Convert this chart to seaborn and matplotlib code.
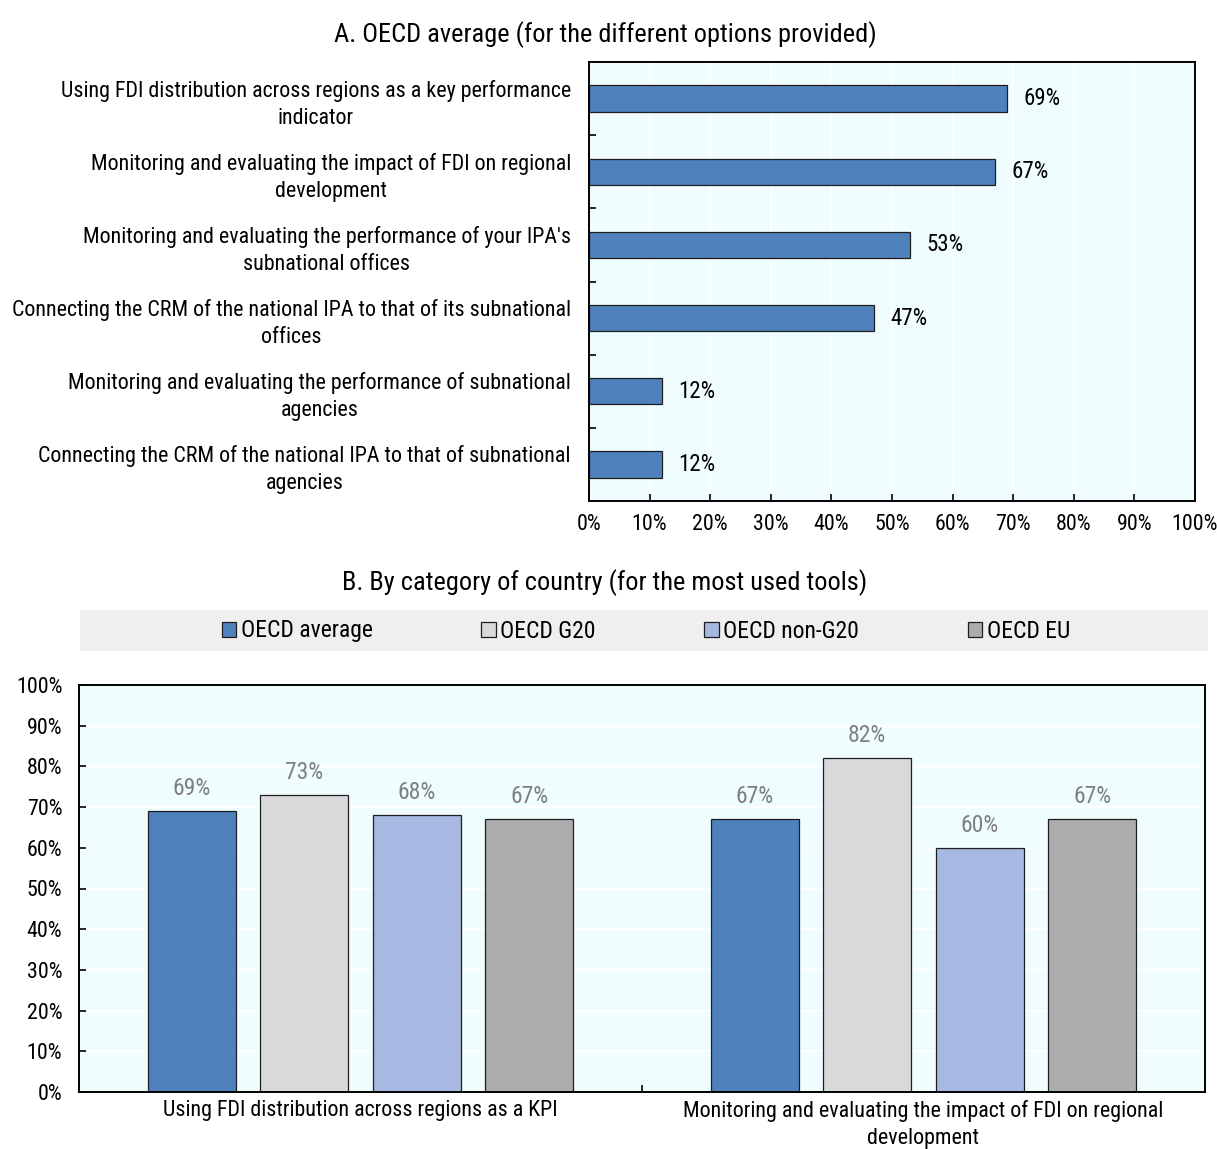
import matplotlib
matplotlib.use("Agg")
import matplotlib.pyplot as plt
from matplotlib.patches import Rectangle
from matplotlib.ticker import FixedLocator, PercentFormatter
import seaborn as sns
import pandas as pd

# Panel A: OECD average per option
options = [
    "Using FDI distribution across regions as a key performance\nindicator",
    "Monitoring and evaluating the impact of FDI on regional\ndevelopment",
    "Monitoring and evaluating the performance of your IPA's\nsubnational offices",
    "Connecting the CRM of the national IPA to that of its subnational\noffices",
    "Monitoring and evaluating the performance of subnational\nagencies",
    "Connecting the CRM of the national IPA to that of subnational\nagencies",
]
option_share = [69, 67, 53, 47, 12, 12]

# Panel B: most used tools by category of country
tools = [
    "Using FDI distribution across regions as a KPI",
    "Monitoring and evaluating the impact of FDI on regional\ndevelopment",
]
groups = ["OECD average", "OECD G20", "OECD non-G20", "OECD EU"]
oecd_average = [69, 67]
oecd_g20 = [73, 82]
oecd_non_g20 = [68, 60]
oecd_eu = [67, 67]

group_colors = ["#4f81bd", "#d9d9d9", "#a7b9e3", "#acacac"]
bg = "#f0fdff"
edge = "#1e1e1e"

sns.set_theme(style="white")
plt.rcParams["font.family"] = ["Roboto Condensed", "Liberation Sans", "DejaVu Sans"]
plt.rcParams["axes.linewidth"] = 1.4
plt.rcParams["text.color"] = "black"
plt.rcParams["xtick.color"] = "black"
plt.rcParams["ytick.color"] = "black"
plt.rcParams["axes.labelcolor"] = "black"

FS = 15.8
W, H = 1217, 1149
fig = plt.figure(figsize=(W / 100, H / 100), dpi=100)


def px_axes(left, top, right, bottom):
    return fig.add_axes([left / W, 1 - bottom / H, (right - left) / W, (bottom - top) / H])


# ---------------- Panel A ----------------
axA = px_axes(589, 62, 1195, 501)
axA.set_facecolor(bg)
dfA = pd.DataFrame({"option": options, "share": option_share})
sns.barplot(data=dfA, x="share", y="option", orient="h", color=group_colors[0],
            width=0.36, edgecolor=edge, linewidth=0.9, saturation=1, ax=axA)
axA.set_xlim(0, 100)
axA.set_ylim(len(options) - 0.5, -0.5)
axA.set_xticks(range(0, 101, 10))
axA.xaxis.set_major_formatter(PercentFormatter(decimals=0))
axA.grid(axis="x", color="white", linewidth=1.2)
axA.set_axisbelow(True)
axA.set_xlabel("")
axA.set_ylabel("")
axA.tick_params(axis="x", direction="in", length=5, width=1.2, color="black",
                labelsize=FS, pad=9, bottom=True)
axA.tick_params(axis="y", which="major", length=0, labelsize=FS, pad=13)
axA.yaxis.set_minor_locator(FixedLocator([i + 0.5 for i in range(len(options) - 1)]))
axA.tick_params(axis="y", which="minor", direction="in", length=5, width=1.2,
                color="black", left=True)
for t in axA.get_yticklabels():
    t.set_multialignment("center")
    t.set_linespacing(1.38)
for s in axA.spines.values():
    s.set_color("black")
for c in axA.containers:
    axA.bar_label(c, labels=[f"{v:.0f}%" for v in c.datavalues], padding=12,
                  fontsize=16.5, color="black")
fig.text(605 / W, 1 - 35 / H, "A. OECD average (for the different options provided)",
         ha="center", va="center", fontsize=19)

# ---------------- Panel B ----------------
axB = px_axes(79, 685, 1205, 1092)
axB.set_facecolor(bg)
dfB = pd.DataFrame({
    "tool": tools * 4,
    "group": [g for g in groups for _ in tools],
    "share": oecd_average + oecd_g20 + oecd_non_g20 + oecd_eu,
})
sns.barplot(data=dfB, x="tool", y="share", hue="group", hue_order=groups,
            palette=group_colors, width=0.8, gap=0.22, edgecolor=edge,
            linewidth=0.9, saturation=1, ax=axB, legend=False)
axB.set_ylim(0, 100)
axB.set_xlim(-0.5, 1.5)
axB.set_yticks(range(0, 101, 10))
axB.yaxis.set_major_formatter(PercentFormatter(decimals=0))
axB.grid(axis="y", color="white", linewidth=1.2)
axB.set_axisbelow(True)
axB.set_xlabel("")
axB.set_ylabel("")
axB.tick_params(axis="y", direction="in", length=5, width=1.2, color="black",
                labelsize=FS, pad=12, left=True)
axB.tick_params(axis="x", which="major", length=0, labelsize=FS, pad=6)
axB.xaxis.set_minor_locator(FixedLocator([0.5]))
axB.tick_params(axis="x", which="minor", direction="in", length=5, width=1.2,
                color="black", bottom=True)
for t in axB.get_xticklabels():
    t.set_multialignment("center")
    t.set_linespacing(1.38)
for s in axB.spines.values():
    s.set_color("black")
for c in axB.containers:
    axB.bar_label(c, labels=[f"{v:.0f}%" for v in c.datavalues], padding=8,
                  fontsize=17, color="#7f7f7f")
fig.text(605 / W, 1 - 583 / H, "B. By category of country (for the most used tools)",
         ha="center", va="center", fontsize=19)

# legend band
fig.patches.append(Rectangle((80 / W, 1 - 651 / H), (1208 - 80) / W, 41 / H,
                             transform=fig.transFigure, facecolor="#efefef",
                             edgecolor="none", zorder=0))
handles = [Rectangle((0, 0), 1, 1, facecolor=c, edgecolor=edge, linewidth=0.9)
           for c in group_colors]
fig.legend(handles, groups, loc="center", bbox_to_anchor=(646 / W, 1 - 631 / H),
           ncol=4, frameon=False, fontsize=17, handlelength=0.6, handleheight=0.6,
           handletextpad=0.2, columnspacing=4.6)

fig.savefig("out.png", dpi=100)
